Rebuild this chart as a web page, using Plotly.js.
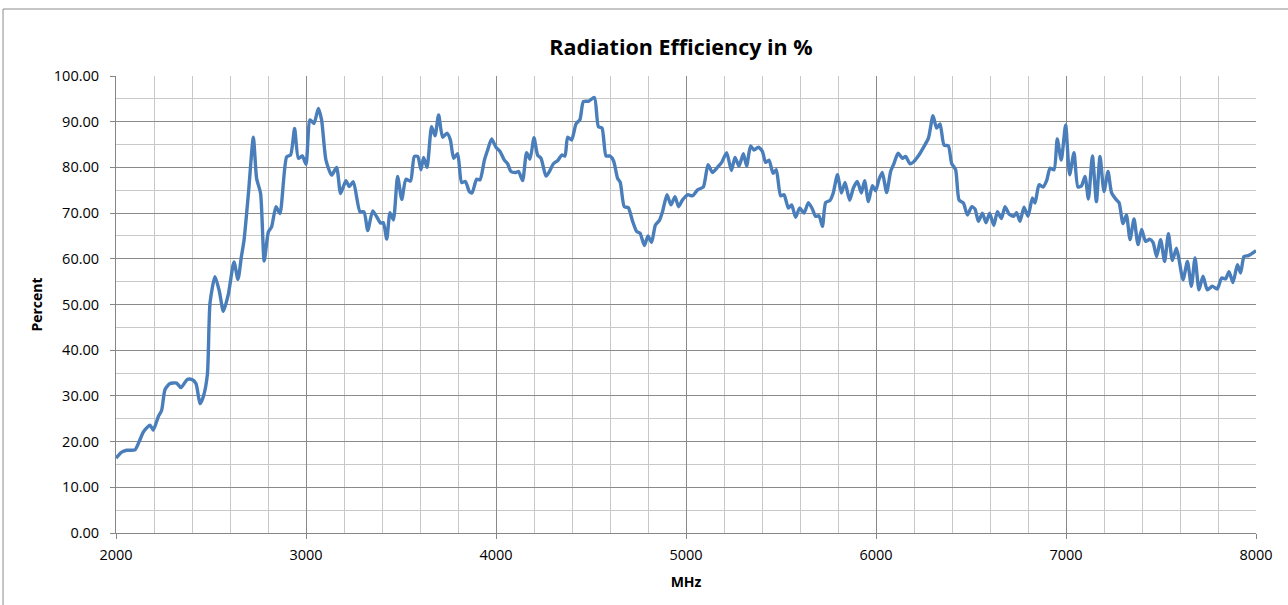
<!DOCTYPE html>
<html>
<head>
<meta charset="utf-8">
<script src="https://cdn.plot.ly/plotly-3.0.1.min.js"></script>
<style>
html,body{margin:0;padding:0;background:#fff;}
#chart{width:1288px;height:605px;}
</style>
</head>
<body>
<div id="chart"></div>
<script>
var freqMHz = [2000,2030,2056,2100,2126,2144,2179,2196,2223,2240,2258,2284,2319,2342,2375,2398,2421,2442,2460,2481,2495,2521,2544,2565,2591,2621,2642,2660,2674,2697,2723,2740,2761,2780,2802,2819,2842,2863,2898,2919,2940,2960,2981,3000,3021,3042,3065,3082,3105,3135,3161,3182,3210,3228,3249,3284,3305,3325,3351,3372,3393,3407,3425,3442,3460,3482,3504,3526,3550,3570,3588,3605,3619,3637,3661,3679,3698,3719,3742,3760,3777,3798,3819,3839,3860,3874,3898,3916,3939,3956,3977,4000,4021,4044,4061,4079,4105,4119,4140,4161,4179,4200,4219,4237,4263,4281,4302,4325,4346,4363,4377,4398,4421,4442,4460,4488,4518,4539,4558,4579,4600,4619,4640,4654,4675,4696,4719,4740,4758,4781,4800,4819,4839,4860,4877,4900,4921,4942,4961,4982,5009,5035,5061,5091,5116,5139,5165,5188,5214,5239,5258,5279,5302,5319,5340,5358,5381,5402,5419,5437,5458,5475,5498,5516,5539,5556,5577,5598,5621,5644,5665,5682,5700,5718,5735,5758,5775,5797,5818,5837,5861,5881,5902,5923,5940,5960,5981,5998,6016,6033,6056,6077,6095,6116,6139,6156,6179,6200,6226,6253,6276,6300,6319,6337,6358,6381,6398,6419,6437,6460,6481,6504,6521,6539,6560,6579,6598,6620,6639,6660,6679,6700,6724,6740,6758,6779,6800,6823,6837,6858,6879,6898,6916,6937,6954,6975,6998,7019,7042,7063,7082,7100,7118,7139,7160,7179,7200,7221,7240,7261,7279,7300,7318,7337,7358,7379,7398,7419,7440,7458,7477,7498,7519,7539,7560,7581,7595,7616,7639,7660,7679,7700,7721,7744,7770,7796,7819,7840,7858,7879,7902,7919,7937,7960,8000];
var efficiencyPct = [16.4,17.7,18.1,18.2,20.4,22.1,23.6,22.5,25.5,26.8,31.4,32.7,32.8,31.8,33.6,33.6,32.7,28.3,29.9,34.7,50.4,56.1,52.9,48.5,52.2,59.3,55.5,60.5,64.1,74.3,86.6,77.6,74.3,59.5,65.9,67.0,71.4,69.9,82.3,82.7,88.5,82.0,82.5,80.7,90.4,89.6,92.9,90.4,81.6,78.3,80.0,74.3,77.1,75.8,76.9,70.3,70.3,66.2,70.5,69.2,67.8,67.9,64.3,70.1,68.5,78.0,73.0,77.4,77.0,82.4,82.4,79.5,82.2,80.0,88.9,86.9,91.5,86.6,87.5,86.0,82.0,83.0,76.7,76.9,74.7,74.4,77.4,77.3,81.6,83.8,86.2,84.4,83.5,81.6,80.8,79.1,78.9,79.1,77.1,83.2,81.8,86.5,82.7,82.0,78.1,79.1,80.8,81.5,82.7,82.5,86.6,86.0,89.5,90.5,94.4,94.5,95.3,88.9,88.6,82.5,82.5,81.4,77.6,76.7,71.4,71.2,68.2,66.0,65.6,62.9,65.0,63.6,67.4,68.4,70.4,74.0,71.8,73.6,71.4,72.9,74.0,73.8,75.1,75.7,80.6,78.9,80.0,81.1,83.2,79.3,82.2,80.3,83.0,80.3,84.7,83.8,84.4,83.5,81.1,81.6,78.7,79.5,73.8,74.0,71.1,71.8,69.1,71.1,70.0,72.3,70.9,69.3,69.4,67.1,72.3,72.8,74.4,78.4,74.4,76.7,72.8,75.5,76.9,74.4,77.1,72.5,76.0,74.9,77.4,78.9,74.5,79.1,80.9,83.1,82.0,82.4,80.8,81.3,82.7,84.6,86.4,91.3,88.6,89.5,84.9,84.7,80.9,79.5,72.9,72.2,69.6,71.4,70.9,68.2,70.0,67.9,70.0,67.3,70.3,68.8,71.4,69.8,69.3,70.1,68.2,71.3,69.3,73.3,72.2,76.2,75.7,77.1,79.8,79.5,86.2,81.6,89.3,78.4,83.2,75.7,76.0,78.0,73.1,82.5,72.5,82.4,74.7,79.1,74.4,73.1,72.3,67.7,69.6,64.2,68.7,63.1,66.4,63.8,64.3,63.6,60.5,64.2,59.4,65.5,59.6,62.3,59.8,55.4,59.4,54.0,60.2,53.2,56.2,53.2,54.0,53.4,55.8,55.6,57.2,54.8,58.7,56.9,60.5,60.7,61.8];

var chartTitle = 'Radiation Efficiency in %';
var xTitle = 'MHz';
var yTitle = 'Percent';

var trace = {
  x: freqMHz,
  y: efficiencyPct,
  type: 'scatter',
  mode: 'lines',
  line: {color: '#4a7ebb', width: 3.4, shape: 'spline', smoothing: 0.6},
  hoverinfo: 'x+y'
};

var fontFam = '"Open Sans", Lato, sans-serif';

var layout = {
  width: 1288,
  height: 605,
  margin: {l: 116, r: 32, t: 76, b: 72},
  paper_bgcolor: '#ffffff',
  plot_bgcolor: '#ffffff',
  showlegend: false,
  font: {family: fontFam, size: 13, color: '#000'},
  title: {
    text: '<b>' + chartTitle + '</b>',
    font: {family: fontFam, size: 21.5, color: '#000'},
    x: 0.5287, xanchor: 'center', xref: 'container',
    y: 0.922, yanchor: 'middle', yref: 'container'
  },
  xaxis: {
    range: [2000, 8000],
    dtick: 1000,
    tick0: 2000,
    showgrid: true,
    gridcolor: '#8a8a8a',
    gridwidth: 1,
    minor: {dtick: 200, showgrid: true, gridcolor: '#c8c8c8', gridwidth: 1, ticks: ''},
    ticks: 'outside',
    ticklen: 5,
    tickcolor: '#868686',
    ticklabelstandoff: 4,
    showline: true,
    linecolor: '#868686',
    linewidth: 1,
    mirror: false,
    zeroline: false,
    tickfont: {family: fontFam, size: 14.5},
    title: {text: '<b>' + xTitle + '</b>', font: {family: fontFam, size: 14}, standoff: 13}
  },
  yaxis: {
    range: [0, 100],
    dtick: 10,
    tick0: 0,
    tickformat: '.2f',
    showgrid: true,
    gridcolor: '#8a8a8a',
    gridwidth: 1,
    minor: {dtick: 5, showgrid: true, gridcolor: '#c8c8c8', gridwidth: 1, ticks: ''},
    ticks: 'outside',
    ticklen: 5,
    tickcolor: '#868686',
    ticklabelstandoff: 8,
    showline: true,
    linecolor: '#868686',
    linewidth: 1,
    zeroline: false,
    tickfont: {family: fontFam, size: 14.5},
    title: {text: '<b>' + yTitle + '</b>', font: {family: fontFam, size: 14}, standoff: 7}
  },
  shapes: [{
    type: 'path',
    xref: 'paper', yref: 'paper',
    path: 'M -0.0991,-0.17 L -0.0991,1.1466 L 1.05,1.1466',
    line: {color: '#8c8c8c', width: 1},
    layer: 'above'
  }]
};

Plotly.newPlot('chart', [trace], layout, {staticPlot: true, displayModeBar: false});
</script>
</body>
</html>
